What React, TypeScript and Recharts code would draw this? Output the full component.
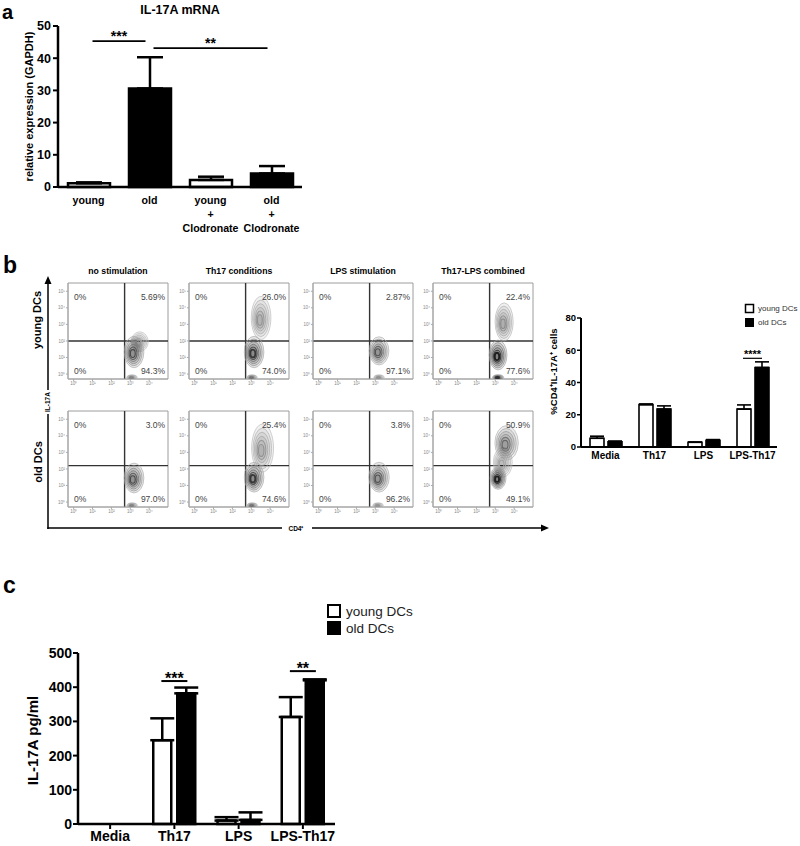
import React from 'react';
import {
  BarChart,
  Bar,
  XAxis,
  YAxis,
  ErrorBar,
  Cell,
  Label,
  ReferenceLine,
  ReferenceArea,
  ScatterChart,
  Scatter,
} from 'recharts';

const FONT = '"Liberation Sans", Arial, Helvetica, sans-serif';

// panel a - IL-17A mRNA
const mrnaGroups = ['young', 'old', 'young + Clodronate', 'old + Clodronate'];
const mrnaMean = [1.15, 30.6, 2.2, 4.2];
const mrnaSem = [0.3, 9.7, 1.0, 2.3];
const mrnaTicks = [0, 10, 20, 30, 40, 50];
const mrnaSig = [
  { from: 'young', to: 'old', at: 45.3, stars: '***' },
  { from: 'old', to: 'old + Clodronate', at: 43.1, stars: '**' },
];

// panel b - flow plots
const seriesNames = ['young DCs', 'old DCs'];
const flowTitles = ['no stimulation', 'Th17 conditions', 'LPS stimulation', 'Th17-LPS combined'];
const flowUpperLeft = [['0%', '0%', '0%', '0%'], ['0%', '0%', '0%', '0%']];
const flowUpperRight = [['5.69%', '26.0%', '2.87%', '22.4%'], ['3.0%', '25.4%', '3.8%', '50.9%']];
const flowLowerLeft = [['0%', '0%', '0%', '0%'], ['0%', '0%', '0%', '0%']];
const flowLowerRight = [['94.3%', '74.0%', '97.1%', '77.6%'], ['97.0%', '74.6%', '96.2%', '49.1%']];
const flowDecades = [0, 1, 2, 3, 4, 5];
const flowGateX = 2.7;
const flowGateY = [2.0, 2.2];
// populations in log decades (x = CD4, y = IL-17A), tone = darkness of the contours
const flowPops = [
  [
    [
      { x: 3.5, y: 1.95, rx: 0.45, ry: 0.6, tone: 0.2 },
      { x: 3.2, y: 1.33, rx: 0.52, ry: 0.95, tone: 0.75 },
      { x: 3.09, y: -0.2, rx: 0.28, ry: 0.15, tone: 0.4 },
    ],
    [
      { x: 3.52, y: 3.39, rx: 0.52, ry: 1.3, tone: 0.3 },
      { x: 3.15, y: 1.33, rx: 0.52, ry: 0.95, tone: 0.85 },
      { x: 3.04, y: -0.2, rx: 0.28, ry: 0.15, tone: 0.5 },
    ],
    [
      { x: 3.2, y: 1.4, rx: 0.52, ry: 0.85, tone: 0.7 },
      { x: 3.2, y: -0.2, rx: 0.28, ry: 0.15, tone: 0.3 },
    ],
    [
      { x: 3.47, y: 3.15, rx: 0.48, ry: 1.15, tone: 0.35 },
      { x: 3.15, y: 1.15, rx: 0.47, ry: 0.9, tone: 1.0 },
      { x: 3.15, y: -0.2, rx: 0.3, ry: 0.16, tone: 0.9 },
    ],
  ],
  [
    [
      { x: 3.2, y: 1.45, rx: 0.52, ry: 0.9, tone: 0.75 },
      { x: 3.1, y: -0.2, rx: 0.28, ry: 0.15, tone: 0.4 },
    ],
    [
      { x: 3.6, y: 3.26, rx: 0.58, ry: 1.45, tone: 0.3 },
      { x: 3.15, y: 1.5, rx: 0.52, ry: 0.9, tone: 0.85 },
      { x: 3.05, y: -0.2, rx: 0.28, ry: 0.15, tone: 0.5 },
    ],
    [
      { x: 3.2, y: 1.5, rx: 0.54, ry: 0.9, tone: 0.7 },
      { x: 3.15, y: -0.2, rx: 0.28, ry: 0.15, tone: 0.3 },
    ],
    [
      { x: 3.4, y: 2.4, rx: 0.5, ry: 0.9, tone: 0.2 },
      { x: 3.6, y: 3.57, rx: 0.62, ry: 1.05, tone: 0.55 },
      { x: 3.15, y: 1.45, rx: 0.42, ry: 0.68, tone: 1.0 },
    ],
  ],
];

// panel b - %CD4+IL-17A+ bars
const cytoGroups = ['Media', 'Th17', 'LPS', 'LPS-Th17'];
const cytoYoung = [5.4, 26.3, 2.9, 23.5];
const cytoYoungSem = [1.3, 0.4, 0.2, 2.6];
const cytoOld = [3.3, 23.5, 4.2, 49.3];
const cytoOldSem = [0.4, 2.0, 0.4, 3.5];
const cytoTicks = [0, 20, 40, 60, 80];
const cytoSig = [{ group: 'LPS-Th17', at: 55, stars: '****' }];

// panel c - IL-17A ELISA
const elisaGroups = ['Media', 'Th17', 'LPS', 'LPS-Th17'];
const elisaYoung = [0, 245, 10, 313];
const elisaYoungSem = [0, 64, 10, 58];
const elisaOld = [0, 382, 12, 420];
const elisaOldSem = [0, 17, 22, 3];
const elisaTicks = [0, 100, 200, 300, 400, 500];
const elisaSig = [
  { group: 'Th17', at: 418, stars: '***' },
  { group: 'LPS-Th17', at: 447, stars: '**' },
];

// layout of the flow grid
const FLOW_LEFT = [68, 189, 313, 433];
const FLOW_TOP = [283, 411];
const FLOW_W = 100;
const FLOW_H = 96;
const PX_X = FLOW_W / 5.3;
const PX_Y = FLOW_H / 5.8;

const sup = ['⁰', '¹', '²', '³', '⁴', '⁵'];
const decadeLabel = (v: number) => `10${sup[v]}`;

const axisTitle = (text: string, size: number, dx = 0, dy = 0) => (props: any) => {
  const vb = props.viewBox;
  const cx = vb.x + vb.width / 2 + dx;
  const cy = vb.y + vb.height / 2 + dy;
  return (
    <text
      x={cx}
      y={cy}
      transform={`rotate(-90 ${cx} ${cy})`}
      textAnchor="middle"
      dominantBaseline="central"
      fontSize={size}
      fontWeight="bold"
      fontFamily={FONT}
      fill="#000"
    >
      {text}
    </text>
  );
};

const spanBracket = (stars: string, size: number, inset: number) => (p: any) => (
  <g>
    <line x1={p.x1 + inset} x2={p.x2 - inset} y1={p.y1} y2={p.y1} stroke="#000" strokeWidth={1.8} />
    <text x={(p.x1 + p.x2) / 2} y={p.y1} textAnchor="middle" fontSize={size} fontWeight="bold" fontFamily={FONT}>
      {stars}
    </text>
  </g>
);

const pairBracket = (stars: string, half: number, size: number, lift: number, sw: number) => (p: any) => (
  <g>
    <line x1={p.x1 - half} x2={p.x1 + half} y1={p.y1} y2={p.y1} stroke="#000" strokeWidth={sw} />
    <text x={p.x1} y={p.y1 + lift} textAnchor="middle" fontSize={size} fontWeight="bold" fontFamily={FONT}>
      {stars}
    </text>
  </g>
);

function StackedTick(props: any) {
  const { x, y, payload } = props;
  const parts = String(payload.value).split(' ');
  return (
    <text x={x} y={y} textAnchor="middle" fontSize={10.6} fontWeight="bold" fontFamily={FONT} fill="#000">
      {parts.map((p, i) => (
        <tspan key={i} x={x} dy={i === 0 ? 11 : 14}>
          {p}
        </tspan>
      ))}
    </text>
  );
}

function Contour(props: any) {
  const { cx, cy, payload } = props;
  if (cx == null || cy == null) return null;
  const rx = payload.rx * PX_X;
  const ry = payload.ry * PX_Y;
  const t = payload.tone;
  const n = 6;
  const rings = [];
  for (let i = 0; i < n; i++) {
    const s = 1 - i * 0.15;
    const g = Math.round(195 - 165 * t * ((i + 1) / n));
    const core = i === n - 1 && t > 0.8;
    rings.push(
      <ellipse
        key={i}
        cx={cx - rx * 0.15 * (i / n)}
        cy={cy + ry * 0.12 * (i / n)}
        rx={rx * s}
        ry={ry * s}
        fill="#000"
        fillOpacity={0.035 + 0.07 * t}
        stroke={`rgb(${g},${g},${g})`}
        strokeWidth={core ? 1.8 : i >= n - 2 ? 1.1 : 0.7}
      />
    );
  }
  return <g>{rings}</g>;
}

function FlowPlot({ row, col }: { row: number; col: number }) {
  const L = FLOW_LEFT[col];
  const T = FLOW_TOP[row];
  const tickStyle = { fontSize: 4.5, fill: '#888', fontFamily: FONT };
  return (
    <div style={{ position: 'absolute', left: L - 14, top: T - 1 }}>
      <ScatterChart width={FLOW_W + 16} height={FLOW_H + 13} margin={{ top: 1, right: 2, bottom: 0, left: 0 }}>
        <XAxis
          type="number"
          dataKey="x"
          domain={[-0.3, 5]}
          ticks={flowDecades.slice(0, 5)}
          tickFormatter={decadeLabel}
          allowDataOverflow
          height={12}
          tick={tickStyle}
          tickSize={2}
          tickMargin={1}
          axisLine={{ stroke: '#aaa' }}
          tickLine={{ stroke: '#aaa' }}
        />
        <YAxis
          type="number"
          dataKey="y"
          domain={[-0.3, 5.5]}
          ticks={flowDecades}
          tickFormatter={decadeLabel}
          allowDataOverflow
          width={14}
          tick={tickStyle}
          tickSize={2}
          tickMargin={1}
          axisLine={{ stroke: '#aaa' }}
          tickLine={{ stroke: '#aaa' }}
        />
        <ReferenceArea x1={-0.3} x2={5} y1={-0.3} y2={5.5} fill="none" fillOpacity={0} stroke="#9c9c9c" strokeWidth={1} />
        <Scatter data={flowPops[row][col]} shape={Contour} isAnimationActive={false} />
        <ReferenceLine x={flowGateX} stroke="#333" strokeWidth={1.4} />
        <ReferenceLine y={flowGateY[row]} stroke="#333" strokeWidth={1.4} />
      </ScatterChart>
    </div>
  );
}

function PanelA() {
  const rows = mrnaGroups.map((g, i) => ({ group: g, mean: mrnaMean[i], err: [0, mrnaSem[i]] }));
  return (
    <div style={{ position: 'absolute', left: 0, top: 0 }}>
      <BarChart width={310} height={240} data={rows} margin={{ top: 26, right: 8, bottom: 8, left: 0 }} barSize={42}>
        <XAxis
          dataKey="group"
          height={45}
          interval={0}
          axisLine={{ stroke: '#000', strokeWidth: 2.5 }}
          tickLine={false}
          tickSize={4}
          tickMargin={2}
          tick={<StackedTick />}
        />
        <YAxis
          domain={[0, 50]}
          ticks={mrnaTicks}
          width={58}
          axisLine={{ stroke: '#000', strokeWidth: 2.5 }}
          tickLine={{ stroke: '#000', strokeWidth: 2 }}
          tickSize={5}
          tickMargin={2}
          tick={{ fontSize: 12.5, fontWeight: 'bold', fill: '#000', fontFamily: FONT }}
        >
          <Label content={axisTitle('relative expression (GAPDH)', 11)} />
        </YAxis>
        <Bar dataKey="mean" stroke="#000" strokeWidth={2.5} isAnimationActive={false}>
          {rows.map((r) => (
            <Cell key={r.group} fill={r.group.startsWith('old') ? '#000' : '#fff'} />
          ))}
          <ErrorBar dataKey="err" direction="y" width={13} stroke="#000" strokeWidth={2.5} />
        </Bar>
        {mrnaSig.map((s) => (
          <ReferenceLine
            key={s.stars}
            segment={[
              { x: s.from, y: s.at },
              { x: s.to, y: s.at },
            ]}
            shape={spanBracket(s.stars, 14, 4)}
          />
        ))}
      </BarChart>
    </div>
  );
}

function PanelBBars() {
  const rows = cytoGroups.map((g, i) => ({
    group: g,
    young: cytoYoung[i],
    youngErr: [0, cytoYoungSem[i]],
    old: cytoOld[i],
    oldErr: [0, cytoOldSem[i]],
  }));
  return (
    <div style={{ position: 'absolute', left: 520, top: 300 }}>
      <BarChart width={265} height={175} data={rows} margin={{ top: 18, right: 8, bottom: 6, left: 0 }} barSize={14} barGap={4}>
        <XAxis
          dataKey="group"
          height={22}
          interval={0}
          axisLine={{ stroke: '#000', strokeWidth: 2 }}
          tickLine={false}
          tickSize={3}
          tickMargin={2}
          tick={{ fontSize: 10, fontWeight: 'bold', fill: '#000', fontFamily: FONT }}
        />
        <YAxis
          domain={[0, 80]}
          ticks={cytoTicks}
          width={61}
          axisLine={{ stroke: '#000', strokeWidth: 2 }}
          tickLine={{ stroke: '#000', strokeWidth: 1.5 }}
          tickSize={4}
          tickMargin={1}
          tick={{ fontSize: 9.5, fontWeight: 'bold', fill: '#000', fontFamily: FONT }}
        >
          <Label content={axisTitle('%CD4⁺IL-17A⁺ cells', 9.5, 2.5, -11)} />
        </YAxis>
        <Bar dataKey="young" name={seriesNames[0]} fill="#fff" stroke="#000" strokeWidth={1.6} isAnimationActive={false}>
          <ErrorBar dataKey="youngErr" direction="y" width={7} stroke="#000" strokeWidth={1.6} />
        </Bar>
        <Bar dataKey="old" name={seriesNames[1]} fill="#000" stroke="#000" strokeWidth={1.6} isAnimationActive={false}>
          <ErrorBar dataKey="oldErr" direction="y" width={7} stroke="#000" strokeWidth={1.6} />
        </Bar>
        {cytoSig.map((s) => (
          <ReferenceLine
            key={s.group}
            segment={[
              { x: s.group, y: s.at },
              { x: s.group, y: s.at },
            ]}
            shape={pairBracket(s.stars, 9.5, 11, 0, 1.2)}
          />
        ))}
      </BarChart>
    </div>
  );
}

function PanelC() {
  const rows = elisaGroups.map((g, i) => ({
    group: g,
    young: elisaYoung[i],
    youngErr: [0, elisaYoungSem[i]],
    old: elisaOld[i],
    oldErr: [0, elisaOldSem[i]],
  }));
  return (
    <div style={{ position: 'absolute', left: 0, top: 600 }}>
      <BarChart width={345} height={246} data={rows} margin={{ top: 53, right: 10, bottom: 0, left: 0 }} barSize={18} barGap={6}>
        <XAxis
          dataKey="group"
          height={22}
          interval={0}
          axisLine={{ stroke: '#000', strokeWidth: 2.5 }}
          tickLine={{ stroke: '#000', strokeWidth: 2 }}
          tickSize={5}
          tickMargin={2}
          tick={{ fontSize: 14, fontWeight: 'bold', fill: '#000', fontFamily: FONT }}
        />
        <YAxis
          domain={[0, 500]}
          ticks={elisaTicks}
          width={78}
          axisLine={{ stroke: '#000', strokeWidth: 2.5 }}
          tickLine={{ stroke: '#000', strokeWidth: 2 }}
          tickSize={5}
          tickMargin={1}
          tick={{ fontSize: 14, fontWeight: 'bold', fill: '#000', fontFamily: FONT }}
        >
          <Label content={axisTitle('IL-17A pg/ml', 15, -7, 2)} />
        </YAxis>
        <Bar dataKey="young" name={seriesNames[0]} fill="#fff" stroke="#000" strokeWidth={2.5} isAnimationActive={false}>
          <ErrorBar dataKey="youngErr" direction="y" width={12} stroke="#000" strokeWidth={2.5} />
        </Bar>
        <Bar dataKey="old" name={seriesNames[1]} fill="#000" stroke="#000" strokeWidth={2.5} isAnimationActive={false}>
          <ErrorBar dataKey="oldErr" direction="y" width={12} stroke="#000" strokeWidth={2.5} />
        </Bar>
        {elisaSig.map((s) => (
          <ReferenceLine
            key={s.group}
            segment={[
              { x: s.group, y: s.at },
              { x: s.group, y: s.at },
            ]}
            shape={pairBracket(s.stars, 13, 16, 3, 2)}
          />
        ))}
      </BarChart>
    </div>
  );
}

function Overlay() {
  const quad = [];
  for (let r = 0; r < 2; r++) {
    for (let c = 0; c < 4; c++) {
      const L = FLOW_LEFT[c];
      const T = FLOW_TOP[r];
      const st = { fontSize: 8.5, fill: '#444', fontFamily: FONT };
      quad.push(
        <g key={`${r}-${c}`}>
          <text x={L + 6} y={T + 17} {...st}>{flowUpperLeft[r][c]}</text>
          <text x={L + FLOW_W - 3} y={T + 17} textAnchor="end" {...st}>{flowUpperRight[r][c]}</text>
          <text x={L + 6} y={T + 91} {...st}>{flowLowerLeft[r][c]}</text>
          <text x={L + FLOW_W - 3} y={T + 91} textAnchor="end" {...st}>{flowLowerRight[r][c]}</text>
        </g>
      );
    }
  }
  return (
    <svg width={800} height={846} style={{ position: 'absolute', left: 0, top: 0, pointerEvents: 'none' }} fontFamily={FONT}>
      <text x={2} y={19} fontSize={20} fontWeight="bold">a</text>
      <text x={180} y={14} fontSize={12.5} fontWeight="bold" textAnchor="middle">IL-17A mRNA</text>
      <text x={3} y={273} fontSize={23} fontWeight="bold">b</text>
      <text x={3} y={593} fontSize={23} fontWeight="bold">c</text>

      {flowTitles.map((t, c) => (
        <text key={t} x={FLOW_LEFT[c] + FLOW_W / 2} y={274} textAnchor="middle" fontSize={8.7} fontWeight="bold">
          {t}
        </text>
      ))}
      {quad}

      {/* IL-17A / CD4 arrows of the flow grid */}
      <line x1={48} y1={282} x2={48} y2={390} stroke="#000" strokeWidth={1.5} />
      <line x1={48} y1={414} x2={48} y2={529} stroke="#000" strokeWidth={1.5} />
      <polygon points="48,276 44.5,284 51.5,284" fill="#000" />
      <text x={47} y={402} transform="rotate(-90 47 402)" textAnchor="middle" dominantBaseline="central" fontSize={6.5} fontWeight="bold">
        IL-17A
      </text>
      <text x={37} y={320} transform="rotate(-90 37 320)" textAnchor="middle" dominantBaseline="central" fontSize={11} fontWeight="bold">
        {seriesNames[0]}
      </text>
      <text x={38} y={462} transform="rotate(-90 38 462)" textAnchor="middle" dominantBaseline="central" fontSize={11} fontWeight="bold">
        {seriesNames[1]}
      </text>
      <line x1={47.3} y1={528} x2={282} y2={528} stroke="#000" strokeWidth={1.5} />
      <line x1={312} y1={528} x2={543} y2={528} stroke="#000" strokeWidth={1.5} />
      <polygon points="549,528 541,524.5 541,531.5" fill="#000" />
      <text x={296} y={528} textAnchor="middle" dominantBaseline="central" fontSize={6.5} fontWeight="bold">
        CD4⁺
      </text>

      {/* legend, panel b */}
      <rect x={745.5} y={304.5} width={8} height={8} fill="#fff" stroke="#000" strokeWidth={1.5} />
      <rect x={745} y={318} width={9} height={9} fill="#000" />
      <text x={758} y={308.5} dominantBaseline="central" fontSize={8} fill="#333">{seriesNames[0]}</text>
      <text x={758} y={322.5} dominantBaseline="central" fontSize={8} fill="#333">{seriesNames[1]}</text>

      {/* legend, panel c */}
      <rect x={328} y={605} width={12} height={12} fill="#fff" stroke="#000" strokeWidth={2} />
      <rect x={327} y={621} width={14} height={14} fill="#000" />
      <text x={346} y={611} dominantBaseline="central" fontSize={13.5} fill="#222">{seriesNames[0]}</text>
      <text x={346} y={628} dominantBaseline="central" fontSize={13.5} fill="#222">{seriesNames[1]}</text>
    </svg>
  );
}

export default function App() {
  return (
    <div style={{ position: 'absolute', left: 0, top: 0, width: 800, height: 846, background: '#fff', fontFamily: FONT }}>
      <PanelA />
      {[0, 1].map((r) => [0, 1, 2, 3].map((c) => <FlowPlot key={`${r}${c}`} row={r} col={c} />))}
      <PanelBBars />
      <PanelC />
      <Overlay />
    </div>
  );
}
